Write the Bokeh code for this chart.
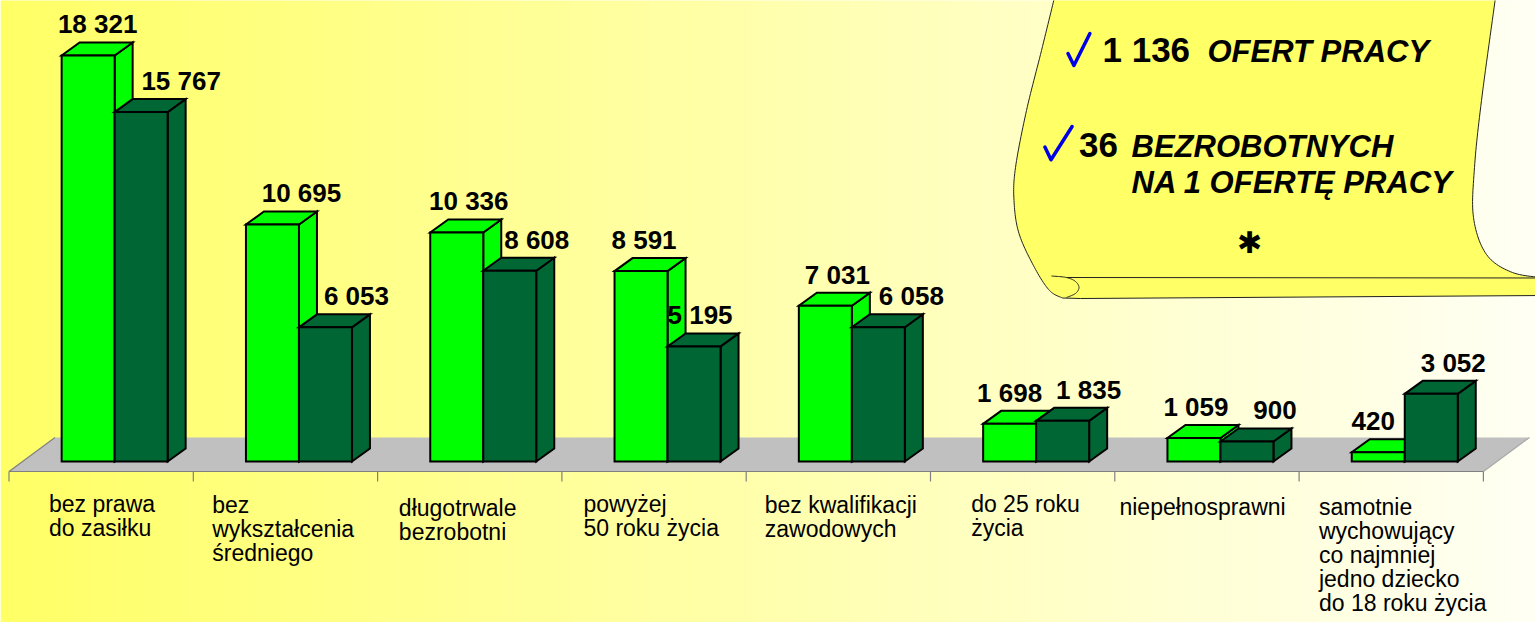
import numpy as np
from bokeh.plotting import figure
from bokeh.models import Range1d
from bokeh.core.properties import value
from bokeh.embed import file_html
from bokeh.resources import INLINE

# ---------------- data ----------------
categories = [
    "bez prawa\ndo zasiłku",
    "bez\nwykształcenia\nśredniego",
    "długotrwale\nbezrobotni",
    "powyżej\n50 roku życia",
    "bez kwalifikacji\nzawodowych",
    "do 25 roku\nżycia",
    "niepełnosprawni",
    "samotnie\nwychowujący\nco najmniej\njedno dziecko\ndo 18 roku życia",
]
series_light = [18321, 10695, 10336, 8591, 7031, 1698, 1059, 420]
series_dark = [15767, 6053, 8608, 5195, 6058, 1835, 900, 3052]
offers_count = "1 136"
unemployed_per_offer = "36"

# ---------------- layout / style ----------------
W, H = 1535, 622
OX, OY = 0, 0
CAT_PX = 184.3              # px per category slot
X0_PX = 8.5                 # px of first category boundary
BASE_PX = 461.0             # px of value 0 (bar base)
K = 0.02216                 # px per unit of value
BAR_PX = 53.0               # bar front width px
SHIFT_PX = 13.5             # depth shift of bars on floor
DX_PX, DY_PX = 18.0, 13.0   # bar depth
FLOOR_DX, FLOOR_FRONT, FLOOR_BACK = 46.0, 471.0, 437.0
BL = 0.37                   # baseline correction (em)

LIGHT = "#00FF00"
DARK = "#006633"

light_nudge = [0.5, 20, 3, -6, 3, -9, -7, -14]
dark_nudge = [31, 22, 18, -3, 24, 17, 19, 13]
label_dx = [-52.2, -73.2, -70.9, -70.6, -73.6, -51.5, -87.5, -72.3]
label_dy = [0, 1.5, 4, 0, 1.5, 0.5, 3.5, 3.3]


def X(px):
    return (px - X0_PX) / CAT_PX


def Y(py):
    return (BASE_PX - py) / K


def fmt(v):
    return f"{v:,}".replace(",", " ")


p = figure(width=W, height=H, output_backend="svg", toolbar_location=None,
           x_axis_location=None, y_axis_location=None, title=None,
           min_border=0,
           x_range=Range1d(X(OX), X(OX + W)), y_range=Range1d(Y(OY + H), Y(OY)))
p.outline_line_color = None
p.grid.visible = False
p.background_fill_color = "#FFFFF4"
p.border_fill_color = "#FFFFF4"

# background gradient (yellow -> near white)
edges = np.arange(OX, OX + W + 10, 10.0)
cols = []
for e in edges[:-1]:
    t = (e + 5) / 1535.0
    b = int(round(102 + t * (244 - 102)))
    cols.append("#FFFF%02X" % min(b, 255))
p.quad(left=[X(e) for e in edges[:-1]], right=[X(e + 10.5) for e in edges[:-1]],
       bottom=Y(OY + H + 5), top=Y(OY - 5), fill_color=cols, line_color=None)

# ---------------- floor ----------------
n = len(categories)
fdx = FLOOR_DX / CAT_PX
yf, yb = Y(FLOOR_FRONT), Y(FLOOR_BACK)
p.patch([0, n, n + fdx, fdx], [yf, yf, yb, yb], fill_color="#C0C0C0", line_color=None)
p.segment(x0=[0, 0, n], y0=[yf, yf, yf], x1=[n, fdx, n + fdx], y1=[yf, yb, yb],
          line_color=["#808080", "#808080", "#A8A8A8"], line_width=1.2)
bounds = list(range(n + 1))
p.segment(x0=bounds, y0=[yf] * len(bounds), x1=bounds, y1=[Y(FLOOR_FRONT + 10)] * len(bounds),
          line_color="#808080", line_width=1.2)

# ---------------- 3D bars ----------------
bw = BAR_PX / CAT_PX
dxu = DX_PX / CAT_PX
dyu = DY_PX / K


def faces(x0, x1, v):
    return [
        ([x1, x1 + dxu, x1 + dxu, x1], [0, dyu, v + dyu, v]),
        ([x0, x1, x1 + dxu, x0 + dxu], [v, v, v + dyu, v + dyu]),
        ([x0, x1, x1, x0], [0, 0, v, v]),
    ]


for series, color, side in ((series_light, LIGHT, -1), (series_dark, DARK, 1)):
    xs, ys = [], []
    for i, v in enumerate(series):
        c = i + 0.5 + SHIFT_PX / CAT_PX
        x0, x1 = (c - bw, c) if side < 0 else (c, c + bw)
        for fx, fy in faces(x0, x1, v):
            xs.append(fx)
            ys.append(fy)
    p.patches(xs, ys, fill_color=color, line_color="black", line_width=2, line_join="miter")

# value labels
VFS = 26
lx, ly, lt = [], [], []
for series, side, nud in ((series_light, -1, light_nudge), (series_dark, 1, dark_nudge)):
    for i, v in enumerate(series):
        c = i + 0.5 + SHIFT_PX / CAT_PX + side * bw / 2
        lx.append(c + (DX_PX / 2 + nud[i]) / CAT_PX)
        ly.append(v + (21.5 + BL * VFS) / K)
        lt.append(fmt(v))
p.text(x=lx, y=ly, text=lt, text_align="center", text_baseline="alphabetic",
       text_font=value("Liberation Sans"), text_font_style="bold",
       text_font_size=f"{VFS}px", text_color="black")

# category labels
CFS = 23
cx, cy, ct = [], [], []
for i, lab in enumerate(categories):
    for j, line in enumerate(lab.split("\n")):
        cx.append(i + 0.5 + label_dx[i] / CAT_PX)
        cy.append(Y(511.7 + label_dy[i] + 24 * j - BL * CFS))
        ct.append(line)
p.text(x=cx, y=cy, text=ct, text_align="left", text_baseline="alphabetic",
       text_font=value("Liberation Sans"), text_font_size=f"{CFS}px", text_color="black")


# ---------------- scroll banner ----------------
def catmull(pts, k=14):
    P = np.array(pts, float)
    P = np.vstack([P[0], P, P[-1]])
    out = []
    for i in range(1, len(P) - 2):
        p0, p1, p2, p3 = P[i - 1], P[i], P[i + 1], P[i + 2]
        for t in np.linspace(0, 1, k, endpoint=False):
            t2, t3 = t * t, t * t * t
            out.append(0.5 * ((2 * p1) + (-p0 + p2) * t + (2 * p0 - 5 * p1 + 4 * p2 - p3) * t2
                              + (-p0 + 3 * p1 - 3 * p2 + p3) * t3))
    out.append(P[-2])
    return [tuple(q) for q in out]


left_edge = catmull([(1054, -3), (1041, 50), (1026, 110), (1015, 167), (1013.5, 200),
                     (1018.5, 233), (1034, 267), (1049, 290), (1062, 297.5)])
right_edge = catmull([(1545, 277.5), (1512, 272), (1486, 254), (1473, 217), (1474, 167),
                      (1481, 100), (1495, -3)])
outline = left_edge + [(1080, 298), (1545, 295)] + right_edge
p.patch([X(a) for a, b in outline], [Y(b) for a, b in outline],
        fill_color="#FFFF66", line_color="#222222", line_width=1)
curl = catmull([(1051, 275.5), (1066, 277), (1075, 281), (1078.5, 287), (1075, 293), (1066, 297)])
p.line([X(a) for a, b in curl], [Y(b) for a, b in curl], line_color="#222222", line_width=1)
p.line([X(1066), X(1545)], [Y(277), Y(277.5)], line_color="#222222", line_width=1)

# check marks
checks = [[(1067.5, 53), (1073.4, 65), (1089.4, 33)], [(1044.4, 146.5), (1050.5, 159.3), (1071.6, 126)]]
p.multi_line([[X(a) for a, b in c] for c in checks], [[Y(b) for a, b in c] for c in checks],
             line_color="#0000E6", line_width=3.5, line_cap="round", line_join="round")

F = value("Liberation Sans")
SFS1, SFS2 = 35, 31
p.text(x=[X(1102), X(1078.5)], y=[Y(62 - BL * SFS1), Y(157 - BL * SFS1)],
       text=[offers_count, unemployed_per_offer],
       text_align="left", text_baseline="alphabetic", text_font=F, text_font_style="bold",
       text_font_size=f"{SFS1}px", text_color="black")
p.text(x=[X(1207), X(1131), X(1131)],
       y=[Y(62 - BL * SFS2), Y(157 - BL * SFS2), Y(193 - BL * SFS2)],
       text=["OFERT PRACY", "BEZROBOTNYCH", "NA 1 OFERTĘ PRACY"],
       text_align="left", text_baseline="alphabetic", text_font=F, text_font_style="bold italic",
       text_font_size=f"{SFS2}px", text_color="black")
p.text(x=[X(1249)], y=[Y(242)], text=["✱"], text_align="center", text_baseline="middle",
       text_font=value("DejaVu Sans"), text_font_size="30px", text_color="black")

open("out.html", "w").write(file_html(p, INLINE))
